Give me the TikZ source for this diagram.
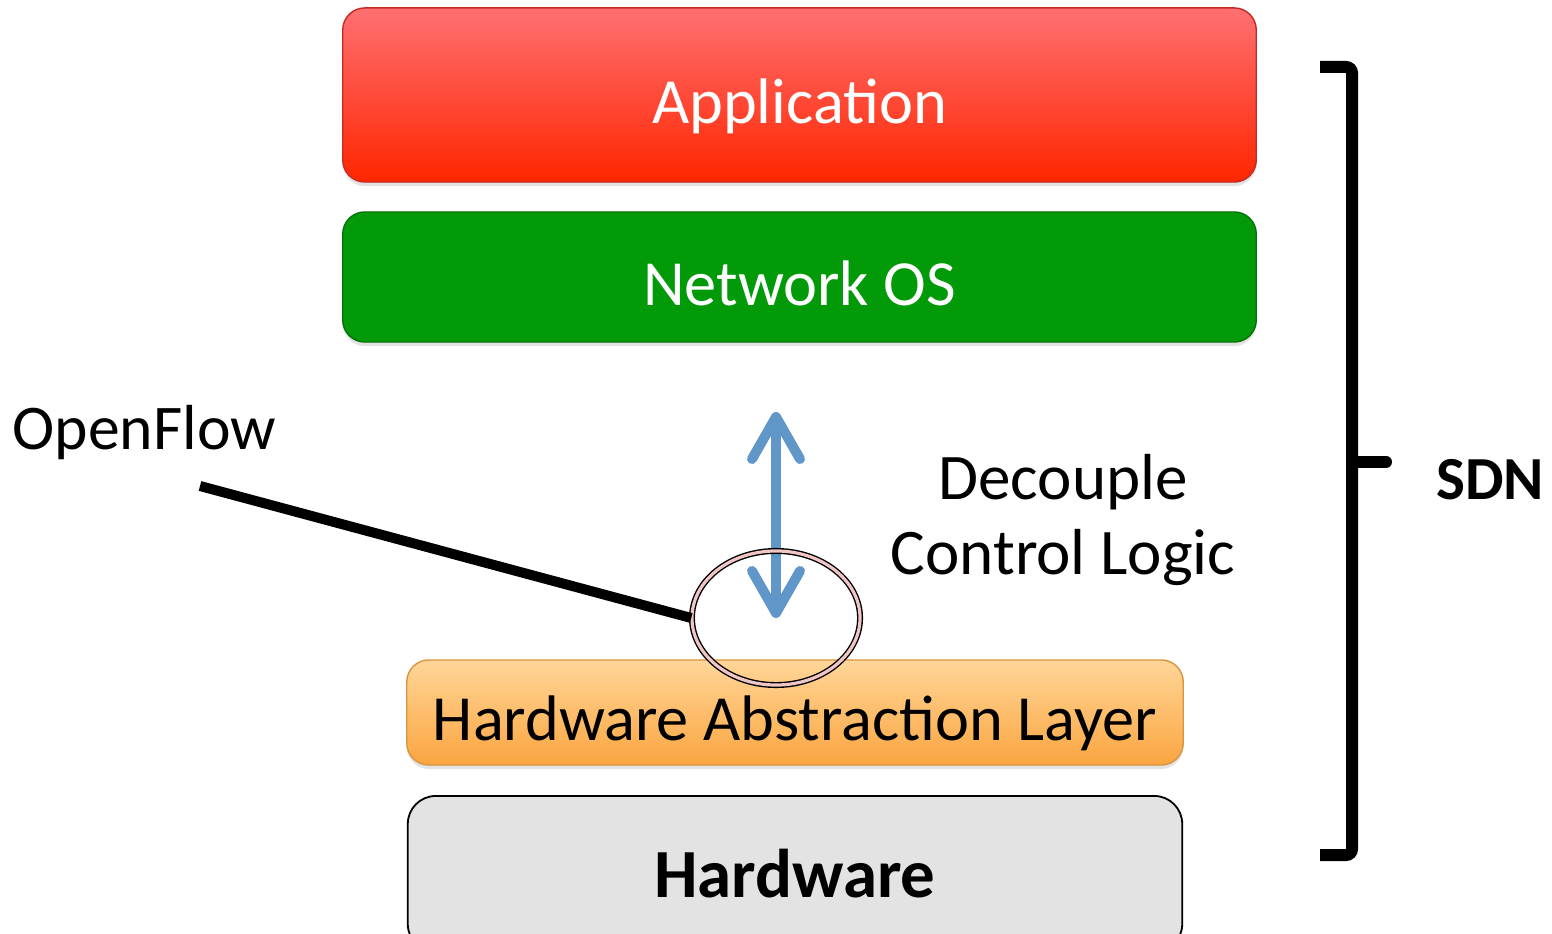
\documentclass[tikz,border=0pt]{standalone}
\usepackage{fontspec}
\setmainfont{Carlito}
\usepackage{tikz}
\usetikzlibrary{arrows.meta,shapes.geometric,shadows}

\definecolor{appTop}{HTML}{FF7072}
\definecolor{appBot}{HTML}{FF2600}
\definecolor{appLine}{HTML}{C42A22}
\definecolor{nosFill}{HTML}{029A08}
\definecolor{nosLine}{HTML}{017405}
\definecolor{halTop}{HTML}{FFD698}
\definecolor{halBot}{HTML}{FBA540}
\definecolor{halLine}{HTML}{D8943E}
\definecolor{hwFill}{HTML}{E3E3E3}
\definecolor{flowBlue}{HTML}{6096C8}
\definecolor{ringPink}{HTML}{F0C6C4}

\begin{document}
\begin{tikzpicture}[x=0.01cm,y=-0.01cm,
  big font/.style={font=\fontsize{18.3}{22}\selectfont},
  layer box/.style={rounded corners=0.22cm,big font,text depth=0pt,inner sep=0pt,
    drop shadow={shadow xshift=0pt,shadow yshift=-0.04cm,opacity=0.22}},
  flow arrow/.style={{Straight Barb[length=0.42cm,width=0.48cm,round]}-{Straight Barb[length=0.42cm,width=0.48cm,round]},
    draw=flowBlue,line width=0.1cm},
  plain text/.style={big font,inner sep=0pt}]

  \useasboundingbox (0,0) rectangle (1552,934);

  % stack of layers
  \node[layer box,top color=appTop,bottom color=appBot,draw=appLine,text=white,
        minimum width=9.13cm,minimum height=1.74cm,text height=0.56cm] (app) at (799.5,95) {Application};
  \node[layer box,fill=nosFill,draw=nosLine,text=white,
        minimum width=9.13cm,minimum height=1.30cm,text height=0.56cm] (nos) at (799.5,277) {Network OS};
  \node[layer box,top color=halTop,bottom color=halBot,draw=halLine,
        minimum width=7.76cm,minimum height=1.05cm,text height=0.55cm] (hal) at (795,712.5) {Hardware Abstraction Layer};
  \node[rounded corners=0.28cm,fill=hwFill,draw=black,line width=0.018cm,inner sep=0pt,
        font=\fontsize{19.6}{22}\selectfont\bfseries,text depth=0pt,text height=0.46cm,
        minimum width=7.74cm,minimum height=1.56cm] (hw) at (795,874) {Hardware};

  % decoupling arrow and ring
  \coordinate (arrtop) at (776,412);
  \coordinate (arrbot) at (776,618);
  \draw[flow arrow] (arrtop) -- (arrbot);
  \node[ellipse,draw=black,double=ringPink,double distance=0.032cm,line width=0.014cm,
        inner sep=0pt,minimum width=1.68cm,minimum height=1.34cm] (ring) at (arrbot) {};

  % labels
  \node[plain text,font=\fontsize{18.1}{22}\selectfont,anchor=base west] (of) at (12,450) {OpenFlow};
  \coordinate (ofstart) at (200,486);
  \draw[line width=0.1cm] (ofstart) -- (ring.west);

  \node[plain text,align=center,font=\fontsize{18.5}{21.3}\selectfont] (dec) at (1063,520) {Decouple\\Control Logic};

  % SDN bracket
  \draw[line width=0.12cm,rounded corners=0.06cm] (1320,67) -- (1352,67) -- (1352,855) -- (1320,855);
  \draw[line width=0.12cm,line cap=round] (1352,462) -- (1386,462);
  \node[plain text,font=\fontsize{17.4}{22}\selectfont\bfseries,anchor=base] (sdn) at (1490,500) {SDN};
\end{tikzpicture}
\end{document}
